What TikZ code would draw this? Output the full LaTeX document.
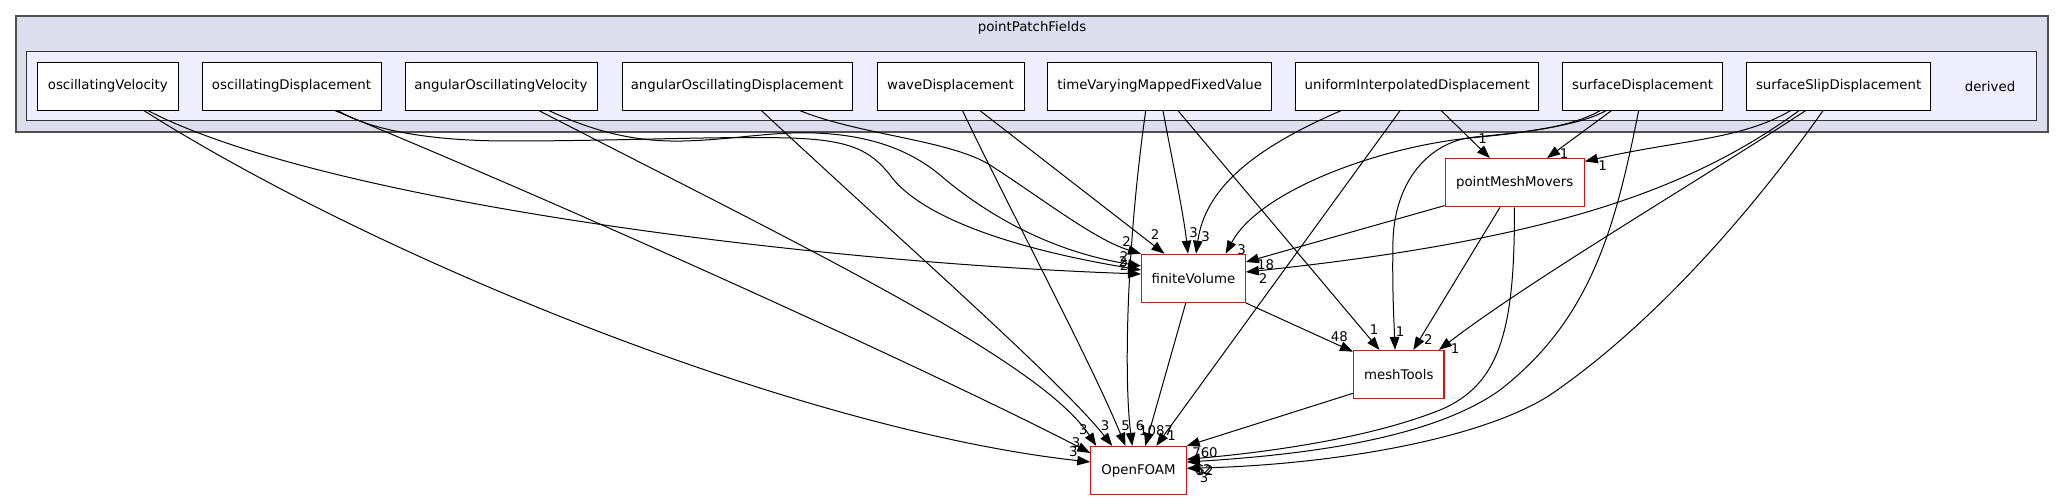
\documentclass[tikz,border=0pt]{standalone}
\usepackage{fontspec}
\setmainfont{DejaVu Sans}
\usetikzlibrary{arrows.meta,calc}
\definecolor{outerfill}{HTML}{DDDDEE}
\definecolor{innerfill}{HTML}{EEEEFF}
\definecolor{outerline}{HTML}{505050}
\definecolor{innerline}{HTML}{333333}
\definecolor{extred}{HTML}{FF0000}
\begin{document}
\begin{tikzpicture}[x=1pt,y=-1pt,
  every node/.append style={font=\fontsize{13.33}{16}\selectfont},
  dirbox/.style={draw=black, fill=white, line width=1pt, minimum height=47.7pt, inner sep=0pt},
  extbox/.style={draw=extred, fill=white, line width=1.2pt, minimum height=48pt, inner sep=0pt},
  dep/.style={draw=black, line width=1pt, -{Triangle[length=13pt,width=9.5pt]}},
  lbl/.style={inner sep=0pt, anchor=center}]
\useasboundingbox (0,0) rectangle (2064,500);
\path[fill=white] (0,0) rectangle (2064,500);

% clusters
\draw[draw=outerline, fill=outerfill, line width=2pt] (16,15.7) rectangle (2048,131.7);
\node (ppf) at (1032,28) {pointPatchFields};
\draw[draw=innerline, fill=innerfill, line width=1pt] (26.8,51.7) rectangle (2036.7,121);
\node (der) at (1990,86.3) {derived};

% directory nodes
\node[dirbox, minimum width=141.6pt] (ov)    at (107.8,86.3)  {oscillatingVelocity};
\node[dirbox, minimum width=179pt]   (od)    at (291.5,86.3)  {oscillatingDisplacement};
\node[dirbox, minimum width=192pt]   (aov)   at (501,86.3)    {angularOscillatingVelocity};
\node[dirbox, minimum width=230pt]   (aod)   at (737,86.3)    {angularOscillatingDisplacement};
\node[dirbox, minimum width=147pt]   (wave)  at (950.5,86.3)  {waveDisplacement};
\node[dirbox, minimum width=223.5pt] (tvmfv) at (1159.7,86.3) {timeVaryingMappedFixedValue};
\node[dirbox, minimum width=243pt]   (uid)   at (1417.2,86.3) {uniformInterpolatedDisplacement};
\node[dirbox, minimum width=160pt]   (sd)    at (1642.5,86.3) {surfaceDisplacement};
\node[dirbox, minimum width=184pt]   (ssd)   at (1838.6,86.3) {surfaceSlipDisplacement};

% external nodes
\node[extbox, minimum width=103.6pt] (fv)  at (1193.4,278.3) {finiteVolume};
\node[extbox, minimum width=139pt]   (pmm) at (1514.7,182.7) {pointMeshMovers};
\node[extbox, minimum width=90.5pt]  (mt)  at (1398.8,374.5) {meshTools};
\node[extbox, minimum width=95.3pt]  (of)  at (1138.5,470.5) {OpenFOAM};

% edges from oscillatingVelocity
\draw[dep] ($(ov.south)+(40.2,0)$) .. controls (320,200) and (800,262) .. ($(fv.west)+(0,-4.3)$);
\draw[dep] ($(ov.south)+(36.2,0)$) .. controls (380,260) and (800,430) .. ($(of.west)+(0,-8.5)$);
% oscillatingDisplacement
\draw[dep] ($(od.south)+(46.5,0)$) .. controls (370,130) and (430,141) .. (509,141)
   .. controls (620,141) and (720,136) .. (790,138)
   .. controls (850,140) and (870,150) .. (890,175)
   .. controls (915,210) and (990,245) .. ($(fv.west)+(0,-8.3)$);
\draw[dep] ($(od.south)+(43.5,0)$) .. controls (600,220) and (950,380) .. ($(of.west)+(0,-17.5)$);
% angularOscillatingVelocity
\draw[dep] ($(aov.south)+(48,0)$) .. controls (580,125) and (620,140) .. (670,141)
   .. controls (720,142) and (770,131) .. (815,133)
   .. controls (870,135) and (910,150) .. (940,175)
   .. controls (975,205) and (1040,250) .. ($(fv.west)+(0,-12.3)$);
\draw[dep] ($(aov.south)+(38,0)$) .. controls (800,245) and (1040,360) .. ($(of.north west)+(6,0)$);
% angularOscillatingDisplacement
\draw[dep] ($(aod.south)+(63,0)$) .. controls (860,135) and (950,140) .. (990,165)
   .. controls (1040,197) and (1095,240) .. (fv.north west);
\draw[dep] ($(aod.south)+(24.5,0)$) .. controls (900,240) and (1060,380) .. ($(of.north west)+(22,0)$);
% waveDisplacement
\draw[dep] ($(wave.south)+(29.5,0)$) -- ($(fv.north west)+(23.4,0)$);
\draw[dep] ($(wave.south)+(12,0)$) .. controls (1010,210) and (1090,360) .. ($(of.north west)+(35.2,0)$);
% timeVaryingMappedFixedValue
\draw[dep] ($(tvmfv.south)+(-14,0)$) .. controls (1126,250) and (1124,380) .. ($(of.north west)+(42,0)$);
\draw[dep] ($(tvmfv.south)+(3.3,0)$) .. controls (1172,160) and (1183,210) .. ($(fv.north)+(-5.4,0)$);
\draw[dep] ($(tvmfv.south)+(18.3,0)$) -- ($(mt.north west)+(26.5,0)$);
% uniformInterpolatedDisplacement
\draw[dep] ($(uid.south)+(-76.2,0)$) .. controls (1250,150) and (1205,190) .. ($(fv.north)+(2.6,0)$);
\draw[dep] ($(uid.south)+(-17.2,0)$) -- ($(of.north west)+(66,0)$);
\draw[dep] ($(uid.south)+(24.1,0)$) -- ($(pmm.north west)+(45.3,0)$);
% surfaceDisplacement
\draw[dep] ($(sd.south)+(-31.1,0)$) -- ($(pmm.north)+(32.3,0)$);
\draw[dep] ($(sd.south)+(-42.5,0)$) .. controls (1570,128) and (1520,133) .. (1470,138)
   .. controls (1380,147) and (1260,190) .. ($(fv.north east)+(-20.2,0)$);
\draw[dep] ($(sd.south)+(-36.5,0)$) .. controls (1580,125) and (1530,132) .. (1475,137)
   .. controls (1430,141) and (1395,180) .. (1393,240)
   .. controls (1392,290) and (1394,320) .. ($(mt.north)+(-3.8,0)$);
\draw[dep] ($(sd.south)+(-3.9,0)$) .. controls (1615,230) and (1590,320) .. (1500,390)
   .. controls (1430,440) and (1300,455) .. ($(of.east)+(0,-8.5)$);
% surfaceSlipDisplacement
\draw[dep] ($(ssd.south)+(-48,0)$) .. controls (1740,140) and (1680,140) .. ($(pmm.north east)+(0,3.3)$);
\draw[dep] ($(ssd.south)+(-39.6,0)$) .. controls (1690,190) and (1550,240) .. ($(fv.east)+(0,-6.3)$);
\draw[dep] ($(ssd.south)+(-33.1,0)$) .. controls (1700,180) and (1530,280) .. ($(mt.north east)+(-5.7,0)$);
\draw[dep] ($(ssd.south)+(-15.6,0)$) .. controls (1760,200) and (1660,320) .. (1550,395)
   .. controls (1480,440) and (1330,465) .. ($(of.east)+(0,-2.2)$);
% pointMeshMovers
\draw[dep] ($(pmm.south west)+(0,-1.7)$) -- ($(fv.east)+(0,-16.3)$);
\draw[dep] ($(pmm.south)+(-14.7,0)$) -- ($(mt.north)+(14.5,0)$);
\draw[dep] ($(pmm.south)+(-0.3,0)$) .. controls (1515,330) and (1500,385) .. (1440,410)
   .. controls (1370,438) and (1270,452) .. ($(of.east)+(0,-11.2)$);
% finiteVolume
\draw[dep] (fv.south east) -- ($(mt.north west)+(0,1.8)$);
\draw[dep] ($(fv.south)+(-7.6,0)$) -- ($(of.north west)+(55,0)$);
% meshTools
\draw[dep] ($(mt.south west)+(0,-5.8)$) -- (of.north east);

% labels at finiteVolume
\node[lbl] (la1) at (1126.7,241.7) {2};
\node[lbl] (la2) at (1155,235) {2};
\node[lbl] (la3) at (1193.6,233) {3};
\node[lbl] (la4) at (1205.5,236.7) {3};
\node[lbl] (la5) at (1241.7,249.3) {3};
\node[lbl] (la6) at (1265.7,264.3) {18};
\node[lbl] (la7) at (1263,278.3) {2};
\node[lbl] (la8) at (1124,256.7) {2};
\node[lbl] (la9) at (1123,261.7) {2};
\node[lbl] (la10) at (1124,266) {2};
% labels at OpenFOAM
\node[lbl] (lb1) at (1083.3,430) {3};
\node[lbl] (lb2) at (1105,426) {3};
\node[lbl] (lb3) at (1125.7,426) {5};
\node[lbl] (lb4) at (1140,426) {6};
\node[lbl] (lb5) at (1156,430.7) {1087};
\node[lbl] (lb6) at (1171.7,436) {1};
\node[lbl] (lb7) at (1076,442.3) {3};
\node[lbl] (lb8) at (1073.3,451.7) {3};
\node[lbl] (lb9) at (1205,452.7) {760};
\node[lbl] (lb10) at (1203,470) {62};
\node[lbl] (lb11) at (1205,470.5) {52};
\node[lbl] (lb12) at (1204,478) {3};
% labels at pointMeshMovers
\node[lbl] (lc1) at (1482.6,138.3) {1};
\node[lbl] (lc2) at (1564,153.3) {1};
\node[lbl] (lc3) at (1602.5,166) {1};
% labels at meshTools
\node[lbl] (ld1) at (1339.3,336.7) {48};
\node[lbl] (ld2) at (1374,330) {1};
\node[lbl] (ld3) at (1400,331.7) {1};
\node[lbl] (ld4) at (1428.3,339.3) {2};
\node[lbl] (ld5) at (1455,348.3) {1};
\end{tikzpicture}
\end{document}
